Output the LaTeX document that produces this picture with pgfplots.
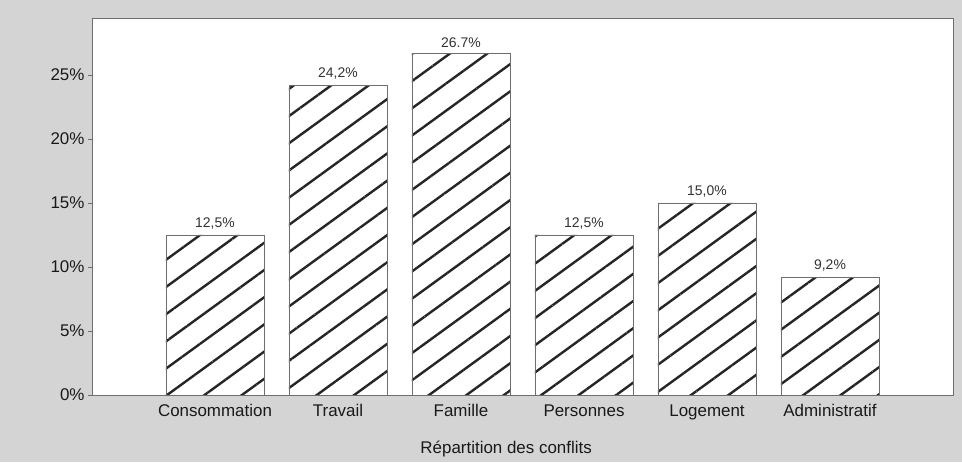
\documentclass[border=0pt]{standalone}
\usepackage{pgfplots}
\pgfplotsset{compat=1.18}
\usepackage{fontspec}
\setmainfont{Liberation Sans}
\usetikzlibrary{patterns.meta,backgrounds}
\definecolor{bggray}{RGB}{212,212,212}
\definecolor{axgray}{RGB}{110,110,110}
\begin{document}
\begin{tikzpicture}[x=1bp,y=1bp]
\begin{axis}[
  name=ax,
  at={(0,0)}, anchor=south west,
  scale only axis,
  width=861bp, height=377bp,
  xmin=-1, xmax=6,
  ymin=0, ymax=29.45,
  xtick=data,
  xticklabels={Consommation,Travail,Famille,Personnes,Logement,Administratif},
  ytick={0,5,10,15,20,25},
  yticklabel={\pgfmathprintnumber{\tick}\%},
  /pgf/number format/assume math mode=true,
  ticklabel style={font=\fontsize{17}{20}\selectfont, text=black!90},
  xtick pos=left, ytick pos=left,
  xticklabel style={anchor=north, yshift=-2bp},
  x tick style={draw=none},
  y tick style={draw=axgray},
  tick align=outside,
  major tick length=4bp,
  axis line style={draw=axgray, line width=0.8bp},
  axis background/.style={fill=white},
  xlabel={Répartition des conflits},
  every axis x label/.style={at={(axis description cs:0.481,0)}, anchor=center, yshift=-54bp, font=\fontsize{17}{20}\selectfont, text=black!90},
  ybar, bar width=0.8,
  nodes near coords,
  point meta=explicit symbolic,
  every node near coord/.append style={font=\fontsize{14}{16}\selectfont, text=black!80, yshift=2bp},
]
\addplot[draw=axgray, line width=0.6bp, pattern={Lines[angle=36, distance=22bp, line width=2.4bp]}, pattern color=black!85]
coordinates {
 (0,12.5) [{12,5\%}]
 (1,24.2) [{24,2\%}]
 (2,26.7) [{26.7\%}]
 (3,12.5) [{12,5\%}]
 (4,15.0) [{15,0\%}]
 (5,9.2) [{9,2\%}]
};
\end{axis}
\begin{scope}[on background layer]
\fill[bggray] ([shift={(-92bp,-67bp)}]ax.south west) rectangle ([shift={(9bp,18bp)}]ax.north east);
\end{scope}
\end{tikzpicture}
\end{document}
